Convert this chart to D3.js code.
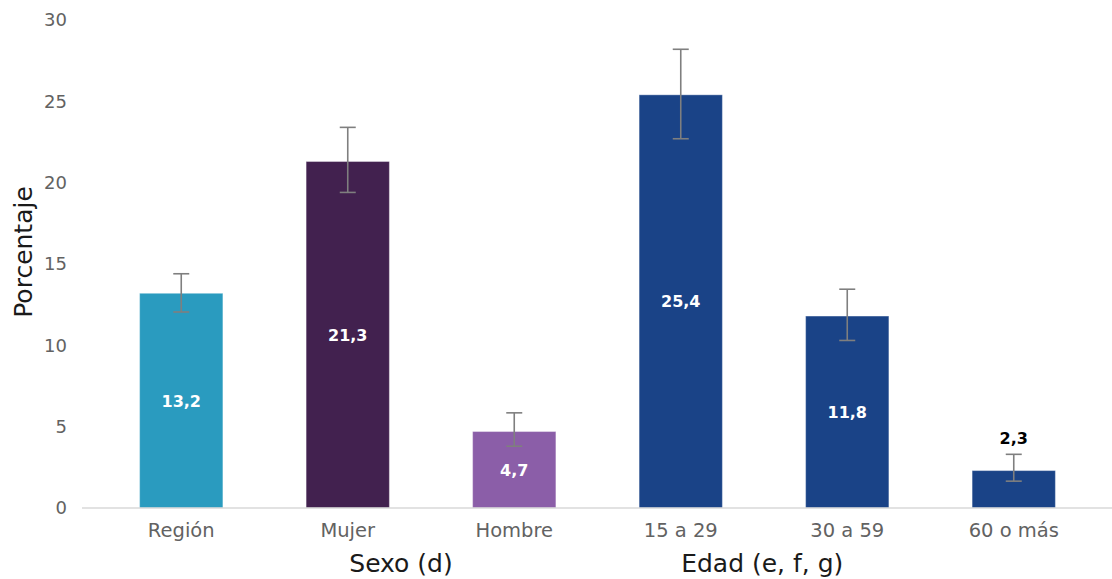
<!DOCTYPE html>
<html>
<head>
<meta charset="utf-8">
<script src="https://cdn.jsdelivr.net/npm/d3@7"></script>
<style>
  html, body { margin: 0; padding: 0; background: #fff; }
  svg { display: block; }
  text { font-family: "DejaVu Sans", sans-serif; }
</style>
</head>
<body>
<svg id="chart" width="1112" height="579"></svg>
<script>
// ---- data ----
const categories = ["Región", "Mujer", "Hombre", "15 a 29", "30 a 59", "60 o más"];
const values     = [13.2, 21.3, 4.7, 25.4, 11.8, 2.3];
const errLow     = [12.05, 19.4, 3.8, 22.7, 10.3, 1.65];
const errHigh    = [14.4, 23.4, 5.85, 28.2, 13.45, 3.3];
const barColors  = ["#2a9bbf", "#42214f", "#8b5ea8", "#1a4387", "#1a4387", "#1a4387"];
const labelInside = [true, true, true, true, true, false];
const yTicks     = [0, 5, 10, 15, 20, 25, 30];
const groups     = [
  { label: "Sexo (d)", from: "Mujer", to: "Hombre" },
  { label: "Edad (e, f, g)", from: "15 a 29", to: "60 o más" }
];

const fmt = v => d3.format(".1f")(v).replace(".", ",");

const svg = d3.select("#chart");
const W = 1112, H = 579;

const y = d3.scaleLinear().domain([0, 30]).range([508, 20]);
const x = d3.scaleBand().domain(categories).range([98, 1097])
  .paddingInner(0.5).paddingOuter(0.25);

// y axis (labels only)
const yAxis = svg.append("g").attr("transform", "translate(70,0)")
  .call(d3.axisLeft(y).tickValues(yTicks).tickSize(0).tickPadding(3));
yAxis.select(".domain").remove();
yAxis.selectAll("text").attr("fill", "#626262").attr("font-size", 18)
  .attr("font-family", "DejaVu Sans, sans-serif");

// y title
svg.append("text")
  .attr("transform", `translate(32,252) rotate(-90)`)
  .attr("text-anchor", "middle")
  .attr("font-size", 25)
  .attr("fill", "#1a1a1a")
  .text("Porcentaje");

const data = categories.map((c, i) => ({
  cat: c, v: values[i], lo: errLow[i], hi: errHigh[i], color: barColors[i], inside: labelInside[i]
}));

// bars
svg.append("g").selectAll("rect").data(data).join("rect")
  .attr("x", d => x(d.cat))
  .attr("width", x.bandwidth())
  .attr("y", d => y(d.v))
  .attr("height", d => y(0) - y(d.v))
  .attr("fill", d => d.color)
  .attr("stroke", "rgba(255,255,255,0.35)")
  .attr("stroke-width", 1);

// x axis baseline
svg.append("line")
  .attr("x1", 82).attr("x2", W)
  .attr("y1", y(0)).attr("y2", y(0))
  .attr("stroke", "#d9d9d9").attr("stroke-width", 1.5);

// error bars
const eb = svg.append("g").attr("stroke", "#7f7f7f").attr("stroke-width", 1.6);
data.forEach(d => {
  const cx = x(d.cat) + x.bandwidth() / 2;
  eb.append("line").attr("x1", cx).attr("x2", cx).attr("y1", y(d.hi)).attr("y2", y(d.lo));
  eb.append("line").attr("x1", cx - 8).attr("x2", cx + 8).attr("y1", y(d.hi)).attr("y2", y(d.hi));
  eb.append("line").attr("x1", cx - 8).attr("x2", cx + 8).attr("y1", y(d.lo)).attr("y2", y(d.lo));
});

// value labels
svg.append("g").selectAll("text").data(data).join("text")
  .attr("x", d => x(d.cat) + x.bandwidth() / 2)
  .attr("y", d => d.inside ? (y(d.v) + y(0)) / 2 + 6 : y(d.hi) - 10)
  .attr("text-anchor", "middle")
  .attr("font-size", 16)
  .attr("font-weight", "bold")
  .attr("fill", d => d.inside ? "#ffffff" : "#000000")
  .text(d => fmt(d.v));

// category labels
svg.append("g").selectAll("text").data(data).join("text")
  .attr("x", d => x(d.cat) + x.bandwidth() / 2)
  .attr("y", 537)
  .attr("text-anchor", "middle")
  .attr("font-size", 19.5)
  .attr("fill", "#626262")
  .text(d => d.cat);

// group labels
const groupOffset = [-30, -85];
svg.append("g").selectAll("text").data(groups).join("text")
  .attr("x", (g, i) => (x(g.from) + x(g.to) + x.bandwidth()) / 2 + groupOffset[i])
  .attr("y", 572)
  .attr("text-anchor", "middle")
  .attr("font-size", 25)
  .attr("fill", "#1a1a1a")
  .text(g => g.label);
</script>
</body>
</html>
